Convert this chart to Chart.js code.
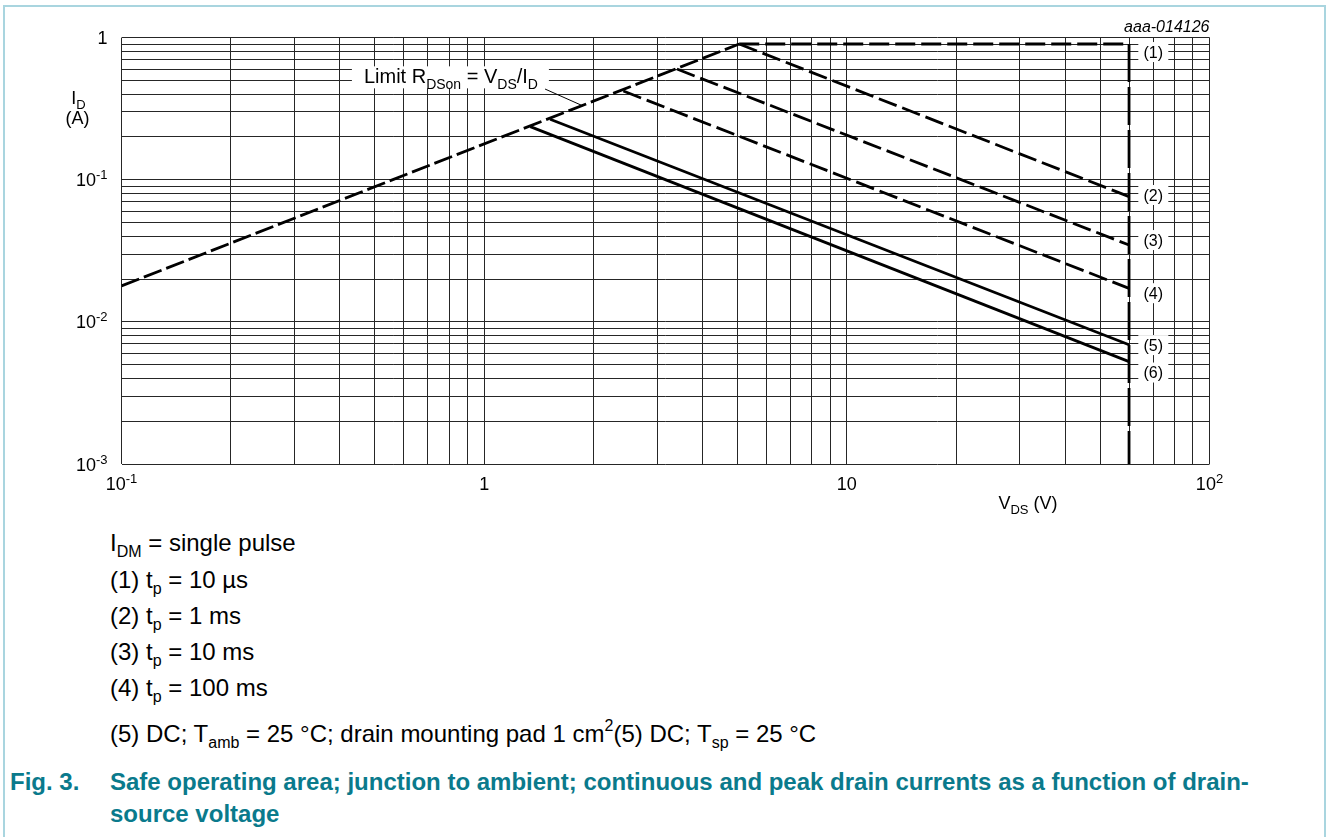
<!DOCTYPE html>
<html>
<head>
<meta charset="utf-8">
<script src="https://cdn.jsdelivr.net/npm/chart.js@4.4.0/dist/chart.umd.min.js"></script>
<style>
body { margin: 0; background: #fff; font-family: "Liberation Sans", Arial, sans-serif; }
#frame { position: absolute; left: 3px; top: 5px; width: 1319px; height: 840px;
         border-left: 2px solid #a9d5df; border-top: 2px solid #a9d5df; border-right: 2px solid #a9d5df; }
#chart-box { position: absolute; left: 0; top: 0; width: 1326px; height: 520px; }
.note { position: absolute; left: 110px; font-size: 24px; line-height: 24px; color: #000; white-space: nowrap; }
.cap { position: absolute; font-size: 24px; line-height: 24px; color: #0a7a8c; font-weight: bold; white-space: nowrap; }
.sub { font-size: 16px; line-height: 0; position: relative; top: 6px; }
.sup { font-size: 16px; line-height: 0; position: relative; top: -11px; }
</style>
</head>
<body>
<div id="frame"></div>
<div id="chart-box"><canvas id="soa-chart"></canvas></div>

<div class="note" style="top:531px">I<span class="sub">DM</span> = single pulse</div>
<div class="note" style="top:568px">(1) t<span class="sub">p</span> = 10 µs</div>
<div class="note" style="top:604px">(2) t<span class="sub">p</span> = 1 ms</div>
<div class="note" style="top:640px">(3) t<span class="sub">p</span> = 10 ms</div>
<div class="note" style="top:676px">(4) t<span class="sub">p</span> = 100 ms</div>
<div class="note" style="top:722px">(5) DC; T<span class="sub">amb</span> = 25 °C; drain mounting pad 1 cm<span class="sup">2</span>(5) DC; T<span class="sub">sp</span> = 25 °C</div>
<div class="cap" style="top:770px; left:10px">Fig. 3.</div>
<div class="cap" style="top:770px; left:110px">Safe operating area; junction to ambient; continuous and peak drain currents as a function of drain-</div>
<div class="cap" style="top:802px; left:110px">source voltage</div>

<script>
// grid lines (1..9 per decade)
const xGrid = [0.1, 0.2, 0.3, 0.4, 0.5, 0.6, 0.7, 0.8, 0.9, 1, 2, 3, 4, 5, 6, 7, 8, 9, 10, 20, 30, 40, 50, 60, 70, 80, 90, 100];
const yGrid = [0.001, 0.002, 0.003, 0.004, 0.005, 0.006, 0.007, 0.008, 0.009, 0.01, 0.02, 0.03, 0.04, 0.05, 0.06, 0.07, 0.08, 0.09, 0.1, 0.2, 0.3, 0.4, 0.5, 0.6, 0.7, 0.8, 0.9, 1];

const xDecades = [0.1, 1, 10, 100];
const xDecadeLabels = ['10^{-1}', '1', '10', '10^{2}'];
const yDecades = [1, 0.1, 0.01, 0.001];
const yDecadeLabels = ['1', '10^{-1}', '10^{-2}', '10^{-3}'];

// V_DS (V) / I_D (A)
const rdsonV = [0.1, 5.05];
const rdsonI = [0.0179, 0.9];
const curve1V = [5.05, 60];
const curve1I = [0.9, 0.9];
const curve2V = [5.05, 60];
const curve2I = [0.9, 0.076];
const curve3V = [3.4, 60];
const curve3I = [0.6, 0.0347];
const curve4V = [2.42, 60];
const curve4I = [0.42, 0.0172];
const curve5V = [1.52, 60];
const curve5I = [0.266, 0.0069];
const curve6V = [1.34, 60];
const curve6I = [0.236, 0.00525];
const vmaxV = [60, 60];
const vmaxI = [0.9, 0.001];

const curveLabels = ['(1)', '(2)', '(3)', '(4)', '(5)', '(6)'];
const curveLabelV = 70;
const curveLabelI = [0.79, 0.078, 0.0376, 0.0159, 0.00686, 0.0044];

const FONT = '"Liberation Sans", Arial, sans-serif';

function pts(xs, ys) {
    return xs.map((x, i) => ({ x: x, y: ys[i] }));
}

function line(xs, ys, dash) {
    return {
        data: pts(xs, ys),
        showLine: true,
        borderColor: '#000',
        borderWidth: 2.8,
        borderDash: dash,
        borderCapStyle: 'butt',
        pointRadius: 0,
        fill: false,
        tension: 0
    };
}

function parseRich(s) {
    const parts = [];
    const re = /([_^])\{([^}]*)\}|([^_^]+)/g;
    let m;
    while ((m = re.exec(s))) {
        if (m[3]) parts.push({ t: m[3], k: 'n' });
        else parts.push({ t: m[2], k: m[1] === '_' ? 'sub' : 'sup' });
    }
    return parts;
}

function drawRich(ctx, s, x, y, size, align, italic) {
    const parts = parseRich(s);
    const small = Math.round(size * 0.72);
    const font = sz => (italic ? 'italic ' : '') + sz + 'px ' + FONT;
    let w = 0;
    parts.forEach(p => {
        ctx.font = font(p.k === 'n' ? size : small);
        p.w = ctx.measureText(p.t).width;
        w += p.w;
    });
    let cx = align === 'right' ? x - w : align === 'center' ? x - w / 2 : x;
    const left = cx;
    ctx.textAlign = 'left';
    ctx.textBaseline = 'alphabetic';
    parts.forEach(p => {
        ctx.font = font(p.k === 'n' ? size : small);
        const dy = p.k === 'sub' ? size * 0.3 : p.k === 'sup' ? -size * 0.38 : 0;
        ctx.fillText(p.t, cx, y + dy);
        cx += p.w;
    });
    return { left: left, width: w };
}

const textPlugin = {
    id: 'soaText',
    afterDraw(chart) {
        const ctx = chart.ctx;
        const xs = chart.scales.x, ys = chart.scales.y;
        const area = chart.chartArea;
        ctx.save();
        ctx.fillStyle = '#000';

        // tick labels
        xDecades.forEach((v, i) => drawRich(ctx, xDecadeLabels[i], xs.getPixelForValue(v), area.bottom + 26, 18, 'center'));
        yDecades.forEach((v, i) => drawRich(ctx, yDecadeLabels[i], area.left - 14, ys.getPixelForValue(v) + 6.5, 18, 'right'));

        // axis titles
        drawRich(ctx, 'I_{D}', area.left - 43, area.top + 66, 18, 'center');
        drawRich(ctx, '(A)', area.left - 44, area.top + 86, 18, 'center');
        drawRich(ctx, 'V_{DS} (V)', 1028, area.bottom + 45, 18, 'center');
        drawRich(ctx, 'aaa-014126', area.right, area.top - 6, 16, 'right', true);

        // curve labels with white boxes
        curveLabels.forEach((t, i) => {
            const px = xs.getPixelForValue(curveLabelV);
            const py = ys.getPixelForValue(curveLabelI[i]);
            ctx.fillStyle = '#fff';
            ctx.fillRect(px - 15, py - 10, 30, 20);
            ctx.fillStyle = '#000';
            drawRich(ctx, t, px, py + 5.5, 16, 'center');
        });

        // R_DSon limit label + leader
        const lx = xs.getPixelForValue(0.466);
        const ly = ys.getPixelForValue(0.476);
        const txt = 'Limit R_{DSon} = V_{DS}/I_{D}';
        ctx.fillStyle = '#fff';
        ctx.fillRect(lx - 12, ly - 17, 197, 22);
        ctx.fillStyle = '#000';
        drawRich(ctx, txt, lx, ly, 20, 'left');
        ctx.strokeStyle = '#000';
        ctx.lineWidth = 1;
        ctx.beginPath();
        ctx.moveTo(xs.getPixelForValue(1.472), ys.getPixelForValue(0.434));
        ctx.lineTo(xs.getPixelForValue(1.873), ys.getPixelForValue(0.33));
        ctx.stroke();
        ctx.restore();
    }
};

function createChart() {
    const ctx = document.getElementById('soa-chart').getContext('2d');
    const gridOpts = { color: '#262626', lineWidth: 1, drawTicks: false };

    new Chart(ctx, {
        type: 'scatter',
        data: {
            datasets: [
                line(rdsonV, rdsonI, [19, 5]),
                line(curve1V, curve1I, [20, 6]),
                line(curve2V, curve2I, [19, 6]),
                line(curve3V, curve3I, [19, 6]),
                line(curve4V, curve4I, [19, 6]),
                line(curve5V, curve5I, []),
                line(curve6V, curve6I, []),
                line(vmaxV, vmaxI, [38, 5])
            ]
        },
        options: {
            responsive: true,
            maintainAspectRatio: false,
            animation: false,
            layout: { padding: { left: 121.5, right: 116.5, top: 37.5, bottom: 56 } },
            plugins: { legend: { display: false }, tooltip: { enabled: false } },
            scales: {
                x: {
                    type: 'logarithmic',
                    min: 0.1,
                    max: 100,
                    afterBuildTicks: s => { s.ticks = xGrid.map(v => ({ value: v })); },
                    ticks: { display: false },
                    grid: gridOpts,
                    border: { display: false }
                },
                y: {
                    type: 'logarithmic',
                    min: 0.001,
                    max: 1,
                    afterBuildTicks: s => { s.ticks = yGrid.map(v => ({ value: v })); },
                    ticks: { display: false },
                    grid: gridOpts,
                    border: { display: false }
                }
            }
        },
        plugins: [textPlugin]
    });
}

document.addEventListener('DOMContentLoaded', createChart);
</script>
</body>
</html>
